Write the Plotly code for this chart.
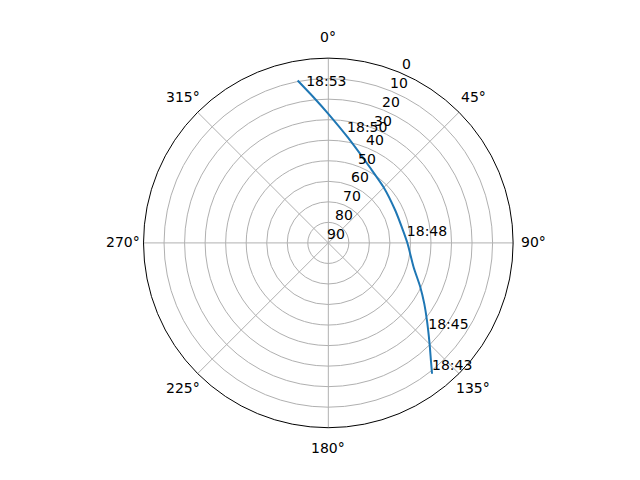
import math
import plotly.graph_objects as go

# Satellite pass: azimuth (deg, clockwise from north) and elevation (deg)
azimuth = [141.6, 138.9, 134.9, 128.2, 122.4, 115.7, 105.9, 90.65, 81.9,
           64.2, 44.8, 29.3, 10.35, 0.0, 354.2, 349.3]
elevation = [8.67, 13.98, 20.37, 28.86, 34.63, 40.27, 46.8, 51.38, 52.96,
             53.76, 51.78, 48.18, 37.67, 27.13, 18.68, 9.51]

label_times = ["18:43", "18:45", "18:48", "18:50", "18:53"]
label_az = [141.6, 131.8, 87.7, 9.9, 351.8]
label_el = [8.67, 24.7, 51.74, 36.9, 14.36]

angle_ticks = [0, 45, 90, 135, 180, 225, 270, 315]
radial_ticks = [0, 10, 20, 30, 40, 50, 60, 70, 80, 90]

# layout geometry (figure pixels)
W, H = 640, 480
CX, CY = 320.0, 234.4     # polar centre inside the figure
R_PX = 184.8              # polar radius
TLABEL_PAD = 20.5         # angular labels: distance outside the rim
RLABEL_ANGLE = 22.5       # azimuth of radial tick labels
RL_DX, RL_DY = 8, -8      # radial label offset from the tick point

def to_paper(x, y):
    return x / W, 1 - y / H

annotations = []
for a in angle_ticks:
    d = R_PX + TLABEL_PAD
    x = CX + d * math.sin(math.radians(a))
    y = CY - d * math.cos(math.radians(a))
    px, py = to_paper(x, y)
    annotations.append(dict(x=px, y=py, xref="paper", yref="paper",
                            text=f"{a}°", showarrow=False,
                            xanchor="center", yanchor="middle"))
for v in radial_ticks:
    d = (90 - v) / 90 * R_PX
    x = CX + d * math.sin(math.radians(RLABEL_ANGLE)) + RL_DX
    y = CY - d * math.cos(math.radians(RLABEL_ANGLE)) + RL_DY
    px, py = to_paper(x, y)
    annotations.append(dict(x=px, y=py, xref="paper", yref="paper",
                            text=str(v), showarrow=False,
                            xanchor="center", yanchor="middle"))

fig = go.Figure()
fig.add_trace(go.Scatterpolar(
    r=elevation, theta=azimuth, mode="lines",
    line=dict(color="#1f77b4", width=2, shape="spline", smoothing=0.6),
    showlegend=False, hoverinfo="skip",
))
fig.add_trace(go.Scatterpolar(
    r=label_el, theta=label_az, mode="text", text=label_times,
    textposition="top right", textfont=dict(size=14, color="black"),
    cliponaxis=False, showlegend=False, hoverinfo="skip",
))

grid = "#b0b0b0"
fig.update_layout(
    width=W, height=H,
    margin=dict(l=0, r=0, t=0, b=0),
    paper_bgcolor="white", plot_bgcolor="white",
    font=dict(family="DejaVu Sans", size=14, color="black"),
    annotations=annotations,
    polar=dict(
        domain=dict(x=[0.2114, 0.7896], y=[0.1256, 0.8956]),
        bgcolor="white",
        angularaxis=dict(
            rotation=90, direction="clockwise",
            tickmode="array", tickvals=angle_ticks,
            showticklabels=False,
            showline=True, linecolor="black", linewidth=1,
            showgrid=True, gridcolor=grid, gridwidth=0.8,
            ticks="",
        ),
        radialaxis=dict(
            range=[90, 0], tickmode="array", tickvals=radial_ticks,
            showticklabels=False,
            angle=67.5, showline=False, ticks="",
            showgrid=True, gridcolor=grid, gridwidth=0.8,
        ),
    ),
)

fig.write_html("out.html")
